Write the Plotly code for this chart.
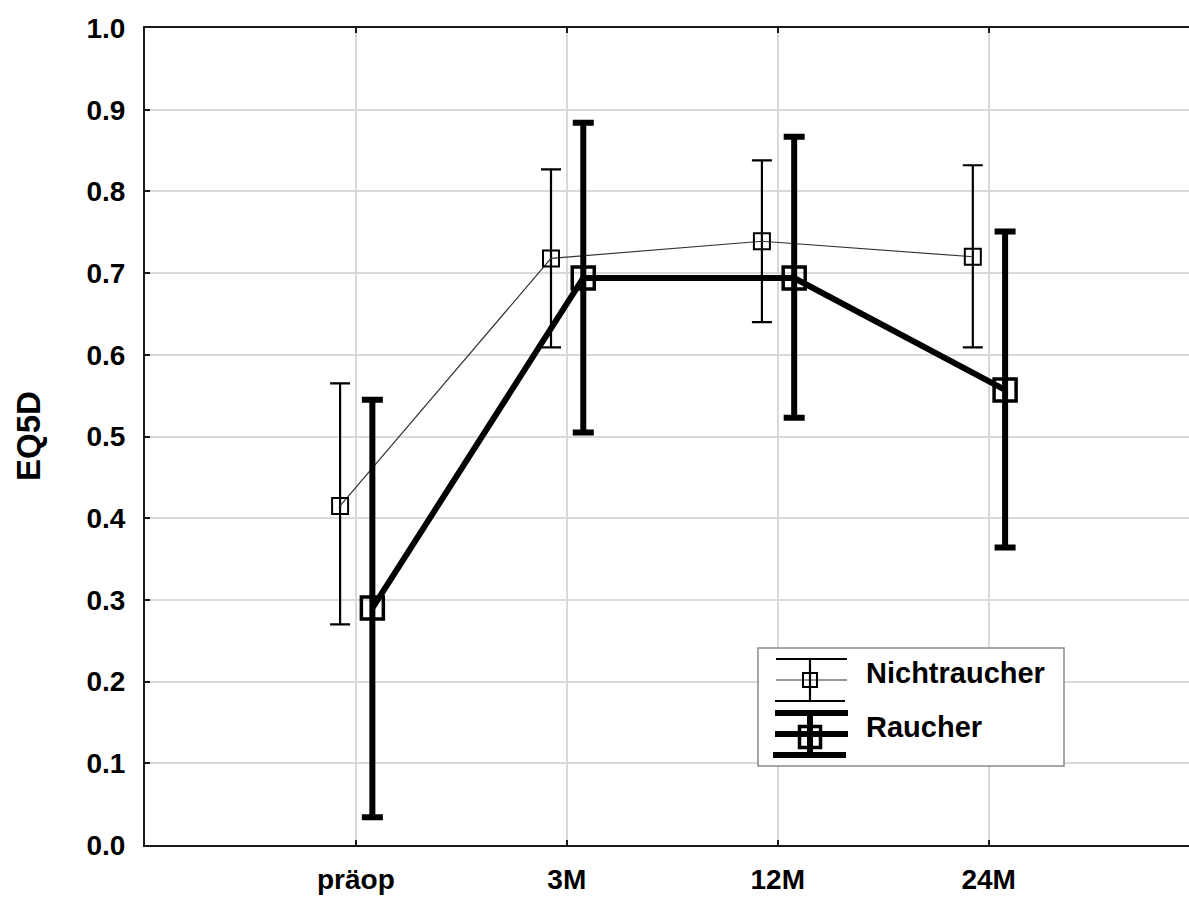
import plotly.graph_objects as go

# Time points
categories = ["präop", "3M", "12M", "24M"]

# EQ5D means with 95% confidence limits
nicht_mean = [0.415, 0.718, 0.739, 0.720]
nicht_upper = [0.565, 0.827, 0.838, 0.832]
nicht_lower = [0.270, 0.609, 0.640, 0.609]

raucher_mean = [0.290, 0.694, 0.694, 0.557]
raucher_upper = [0.545, 0.884, 0.867, 0.751]
raucher_lower = [0.034, 0.505, 0.523, 0.364]

series_names = ["Nichtraucher", "Raucher"]

# Page geometry (pixels)
W, H = 1189, 897
ML, MR, MT, MB = 145, 0, 28, 52
PW, PH = W - ML - MR, H - MT - MB


def px(x):
    return (x - ML) / PW


def py(y):
    return (H - MB - y) / PH


idx = list(range(len(categories)))
x_nicht = [i - 0.075 for i in idx]
x_raucher = [i + 0.078 for i in idx]

fig = go.Figure()

fig.add_trace(go.Scatter(
    x=x_nicht, y=nicht_mean, mode="lines+markers", name=series_names[0],
    line=dict(color="#333333", width=1.2),
    marker=dict(symbol="square-open", size=16, color="black", line=dict(width=2, color="black")),
    error_y=dict(type="data", symmetric=False,
                 array=[u - m for u, m in zip(nicht_upper, nicht_mean)],
                 arrayminus=[m - l for m, l in zip(nicht_mean, nicht_lower)],
                 color="black", thickness=2.2, width=10),
    showlegend=False,
))

fig.add_trace(go.Scatter(
    x=x_raucher, y=raucher_mean, mode="lines+markers", name=series_names[1],
    line=dict(color="black", width=6),
    marker=dict(symbol="square-open", size=22, color="black", line=dict(width=3.5, color="black")),
    error_y=dict(type="data", symmetric=False,
                 array=[u - m for u, m in zip(raucher_upper, raucher_mean)],
                 arrayminus=[m - l for m, l in zip(raucher_mean, raucher_lower)],
                 color="black", thickness=6, width=10.5),
    showlegend=False,
))

FAMILY = "Liberation Sans, Arial, sans-serif"
tick_font = dict(family=FAMILY, size=28, color="black", weight="bold")
legend_font = dict(family=FAMILY, size=29, color="black", weight="bold")
title_font = dict(family=FAMILY, size=33, color="black", weight="bold")

# Legend box with error-bar glyphs
shapes = [
    dict(type="rect", xref="paper", yref="paper", x0=px(758), x1=px(1064), y0=py(648), y1=py(766),
         line=dict(color="#8a8a8a", width=1.5), fillcolor="white", layer="above"),
]


def hline(x0, x1, y, w, color="black"):
    return dict(type="line", xref="paper", yref="paper", x0=px(x0), x1=px(x1), y0=py(y), y1=py(y),
                line=dict(color=color, width=w), layer="above")


def vline(x, y0, y1, w):
    return dict(type="line", xref="paper", yref="paper", x0=px(x), x1=px(x), y0=py(y0), y1=py(y1),
                line=dict(color="black", width=w), layer="above")


def square(cx, cy, s, w):
    return dict(type="rect", xref="paper", yref="paper", x0=px(cx - s / 2), x1=px(cx + s / 2),
                y0=py(cy + s / 2), y1=py(cy - s / 2), line=dict(color="black", width=w), layer="above")


shapes += [
    hline(776, 847, 659, 2.2), hline(776, 847, 680, 1.2, "#333333"), hline(775, 845, 701, 2.2),
    vline(810, 659, 701, 2.2), square(810, 680, 14, 2),
    hline(775, 848, 713, 6), hline(775, 848, 734, 6), hline(773, 846, 755, 6),
    vline(810, 713, 755, 6), square(810, 737, 21, 3.5),
]

annotations = [
    dict(text=series_names[0], xref="paper", yref="paper", x=px(864), y=py(673), xanchor="left",
         yanchor="middle", showarrow=False, font=legend_font),
    dict(text=series_names[1], xref="paper", yref="paper", x=px(864), y=py(727), xanchor="left",
         yanchor="middle", showarrow=False, font=legend_font),
    dict(text="EQ5D", xref="paper", yref="paper", x=px(28), y=py(436), textangle=-90,
         xanchor="center", yanchor="middle", showarrow=False, font=title_font),
]

fig.update_layout(
    width=W, height=H,
    margin=dict(l=ML, r=MR, t=MT, b=MB, autoexpand=False),
    paper_bgcolor="white", plot_bgcolor="white",
    shapes=shapes, annotations=annotations,
    xaxis=dict(
        range=[-1, 3.95], tickmode="array", tickvals=idx, ticktext=categories,
        showgrid=True, gridcolor="#d9d9d9", gridwidth=1.5,
        showline=True, linecolor="#1a1a1a", linewidth=2, mirror="ticks",
        ticks="inside", ticklen=5, tickwidth=2, tickcolor="#1a1a1a",
        tickfont=tick_font, ticklabelstandoff=8, zeroline=False, automargin=False,
    ),
    yaxis=dict(
        range=[0, 1], tickmode="linear", tick0=0, dtick=0.1, tickformat=".1f",
        showgrid=True, gridcolor="#d9d9d9", gridwidth=1.5,
        showline=True, linecolor="#1a1a1a", linewidth=2, mirror=False,
        ticks="inside", ticklen=5, tickwidth=2, tickcolor="#1a1a1a",
        tickfont=tick_font, ticklabelstandoff=12, zeroline=False, automargin=False,
    ),
)

fig.write_html("out.html")
